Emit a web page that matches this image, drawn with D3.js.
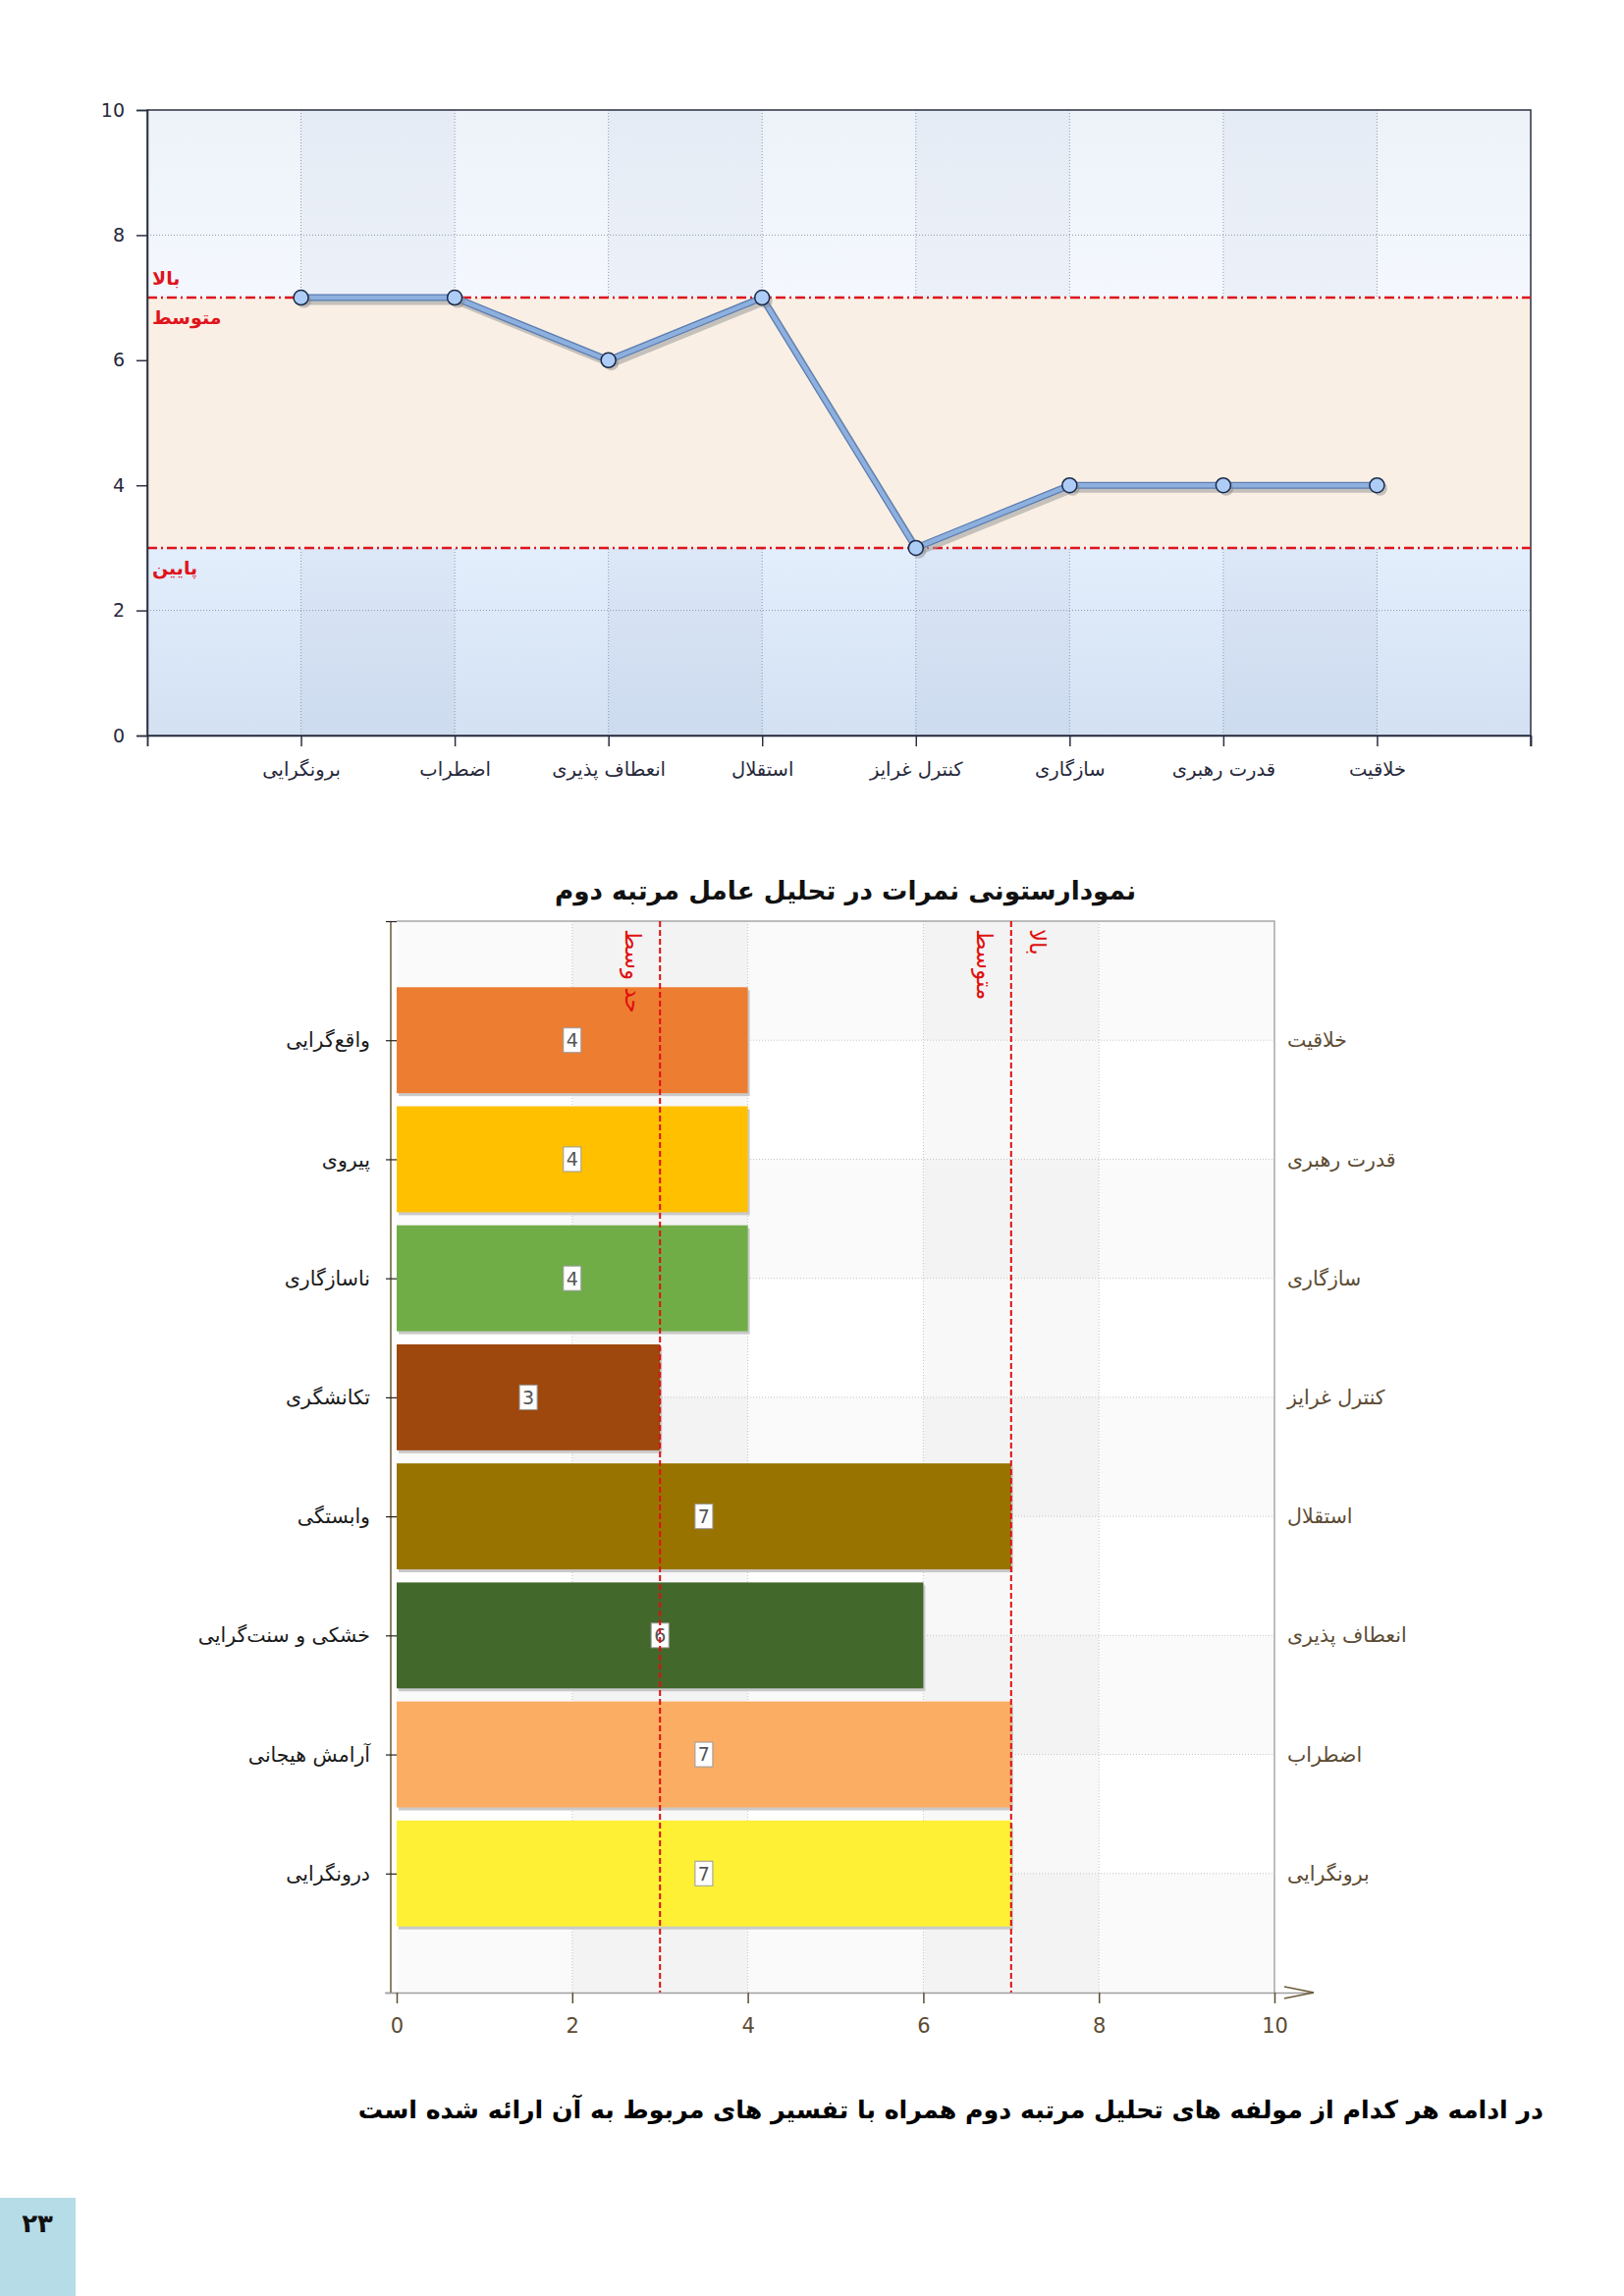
<!DOCTYPE html>
<html>
<head>
<meta charset="utf-8">
<script src="https://cdn.jsdelivr.net/npm/d3@7"></script>
<style>
  body { margin: 0; background: #fff; }
  svg text { font-family: "DejaVu Sans", sans-serif; }
</style>
</head>
<body>
<script>
// factors, in the order of the line chart (left to right)
const factors = ["برونگرایی", "اضطراب", "انعطاف پذیری", "استقلال", "کنترل غرایز", "سازگاری", "قدرت رهبری", "خلاقیت"];
const scores = [7, 7, 6, 7, 3, 4, 4, 4];
// opposite poles shown on the left of the bar chart
const poles = ["درونگرایی", "آرامش هیجانی", "خشکی و سنت\u200cگرایی", "وابستگی", "تکانشگری", "ناسازگاری", "پیروی", "واقع\u200cگرایی"];
const barColors = ["#FEF035", "#FBAD63", "#43682B", "#997300", "#9E480E", "#70AD47", "#FFC000", "#ED7D31"];
const yTicks = [0, 2, 4, 6, 8, 10];
const xTicks = [0, 2, 4, 6, 8, 10];
const lowLine = 3, highLine = 7;

const svg = d3.select("body").append("svg")
  .attr("width", 1654).attr("height", 2338);

const defs = svg.append("defs");
function vgrad(id, c1, c2) {
  const g = defs.append("linearGradient").attr("id", id)
    .attr("x1", 0).attr("y1", 0).attr("x2", 0).attr("y2", 1);
  g.append("stop").attr("offset", "0%").attr("stop-color", c1);
  g.append("stop").attr("offset", "100%").attr("stop-color", c2);
}
vgrad("gTop", "#edf2f9", "#f4f8fe");
vgrad("gLow", "#e3eefc", "#d3e1f3");

// fit a text to a target width by adjusting its font size
function fitText(sel, width) {
  const fs = +sel.attr("font-size");
  const w = sel.node().getComputedTextLength();
  if (w > 0) sel.attr("font-size", (fs * width / w).toFixed(2));
}

// ---------- line chart ----------
const x1 = d3.scaleLinear().domain([0, 9]).range([150, 1559]);
const y1 = d3.scaleLinear().domain([0, 10]).range([749, 112]);
const lc = svg.append("g");

lc.append("rect").attr("x", x1(0)).attr("y", y1(10))
  .attr("width", x1(9) - x1(0)).attr("height", y1(highLine) - y1(10)).attr("fill", "url(#gTop)");
lc.append("rect").attr("x", x1(0)).attr("y", y1(lowLine))
  .attr("width", x1(9) - x1(0)).attr("height", y1(0) - y1(lowLine)).attr("fill", "url(#gLow)");
// darker alternate columns
lc.selectAll("rect.col").data([1, 3, 5, 7]).enter().append("rect")
  .attr("class", "col")
  .attr("x", d => x1(d)).attr("y", y1(10))
  .attr("width", x1(1) - x1(0)).attr("height", y1(0) - y1(10))
  .attr("fill", "#1a3a70").attr("opacity", 0.035);

// dotted grid
lc.selectAll("line.hg").data(yTicks.slice(1, -1)).enter().append("line")
  .attr("x1", x1(0)).attr("x2", x1(9)).attr("y1", d => y1(d)).attr("y2", d => y1(d))
  .attr("stroke", "#8f9bb0").attr("stroke-width", 1).attr("stroke-dasharray", "1,2");
lc.selectAll("line.vg").data(d3.range(1, 9)).enter().append("line")
  .attr("y1", y1(0)).attr("y2", y1(10)).attr("x1", d => x1(d)).attr("x2", d => x1(d))
  .attr("stroke", "#8f9bb0").attr("stroke-width", 1).attr("stroke-dasharray", "1,2");

// middle (average) zone
lc.append("rect").attr("x", x1(0)).attr("y", y1(highLine))
  .attr("width", x1(9) - x1(0)).attr("height", y1(lowLine) - y1(highLine)).attr("fill", "#faefe4");

// frame
lc.append("rect").attr("x", x1(0)).attr("y", y1(10))
  .attr("width", x1(9) - x1(0)).attr("height", y1(0) - y1(10))
  .attr("fill", "none").attr("stroke", "#2b3040").attr("stroke-width", 1.5);

// limit lines
lc.selectAll("line.lim").data([lowLine, highLine]).enter().append("line")
  .attr("x1", x1(0)).attr("x2", x1(9)).attr("y1", d => y1(d)).attr("y2", d => y1(d))
  .attr("stroke", "#e0141c").attr("stroke-width", 2.5).attr("stroke-dasharray", "10,4,2,4");

const redLab = [
  {t: "بالا", v: highLine, dy: -20},
  {t: "متوسط", v: highLine, dy: 20},
  {t: "پایین", v: lowLine, dy: 20}
];
lc.selectAll("text.lim").data(redLab).enter().append("text")
  .attr("x", x1(0) + 5).attr("y", d => y1(d.v) + d.dy).attr("dy", "0.35em")
  .attr("text-anchor", "start").attr("fill", "#e0141c")
  .attr("font-size", 19).attr("font-weight", "bold").text(d => d.t);

// axes
const axL = lc.append("g").attr("transform", `translate(${x1(0)},0)`)
  .call(d3.axisLeft(y1).tickValues(yTicks).tickSize(11).tickPadding(12));
const axB = lc.append("g").attr("transform", `translate(0,${y1(0)})`)
  .call(d3.axisBottom(x1).tickValues(d3.range(0, 10)).tickSize(11).tickPadding(16)
    .tickFormat(i => factors[i - 1] || ""));
lc.append("line").attr("x1", x1(9)).attr("x2", x1(9)).attr("y1", y1(0)).attr("y2", y1(0) + 11)
  .attr("stroke", "#2b3040").attr("stroke-width", 1.5);
[axL, axB].forEach(a => {
  a.select(".domain").attr("stroke", "#2b3040").attr("stroke-width", 1.5);
  a.selectAll(".tick line").attr("stroke", "#2b3040").attr("stroke-width", 1.5);
  a.selectAll("text").attr("fill", "#26283a").attr("font-family", "DejaVu Sans");
});
axL.selectAll("text").attr("font-size", 19);
axB.selectAll("text").attr("font-size", 19.5);

// line with shadow
const line = d3.line().x((d, i) => x1(i + 1)).y(d => y1(d));
lc.append("path").datum(scores).attr("d", line).attr("transform", "translate(3,4)")
  .attr("fill", "none").attr("stroke", "#a0a0a0").attr("stroke-width", 7).attr("opacity", 0.6);
lc.append("path").datum(scores).attr("d", line)
  .attr("fill", "none").attr("stroke", "#5a7cb0").attr("stroke-width", 7);
lc.append("path").datum(scores).attr("d", line)
  .attr("fill", "none").attr("stroke", "#8db0de").attr("stroke-width", 4.5);
lc.selectAll("circle.sh").data(scores).enter().append("circle")
  .attr("cx", (d, i) => x1(i + 1) + 3).attr("cy", d => y1(d) + 3).attr("r", 7.5)
  .attr("fill", "#888").attr("opacity", 0.45);
lc.selectAll("circle.pt").data(scores).enter().append("circle")
  .attr("cx", (d, i) => x1(i + 1)).attr("cy", d => y1(d)).attr("r", 7.5)
  .attr("fill", "#aecdf6").attr("stroke", "#1b2a4a").attr("stroke-width", 1.5);

// ---------- bar chart ----------
const barFactors = factors.slice().reverse();
const barScores = scores.slice().reverse();
const barPoles = poles.slice().reverse();
const barFill = barColors.slice().reverse();

const x2 = d3.scaleLinear().domain([0, 10]).range([404, 1298]);
const y2 = d3.scaleLinear().domain([0, 9]).range([938, 2029]);
const bc = svg.append("g");

const title = bc.append("text").attr("x", 861).attr("y", 907).attr("dy", "0.35em")
  .attr("text-anchor", "middle").attr("font-size", 29).attr("font-weight", "bold")
  .attr("fill", "#111")
  .text("نمودارستونی  نمرات در تحلیل عامل مرتبه دوم");
fitText(title, 592);

// background cells
const cells = [];
d3.range(9).forEach(r => d3.range(5).forEach(c => cells.push({r, c})));
bc.selectAll("rect.cell").data(cells).enter().append("rect")
  .attr("x", d => x2(d.c * 2)).attr("y", d => y2(d.r))
  .attr("width", x2(2) - x2(0)).attr("height", y2(1) - y2(0))
  .attr("fill", d => d.r % 2 === 0 ? (d.c % 2 ? "#f3f3f3" : "#fafafa") : (d.c % 2 ? "#f8f8f8" : "#ffffff"));

// dotted grid
bc.selectAll("line.vg").data([2, 4, 6, 8]).enter().append("line")
  .attr("x1", d => x2(d)).attr("x2", d => x2(d)).attr("y1", y2(0)).attr("y2", y2(9))
  .attr("stroke", "#c4c4c4").attr("stroke-dasharray", "1,2");
bc.selectAll("line.hg").data(d3.range(1, 9)).enter().append("line")
  .attr("x1", x2(0)).attr("x2", x2(10)).attr("y1", d => y2(d)).attr("y2", d => y2(d))
  .attr("stroke", "#c4c4c4").attr("stroke-dasharray", "1,2");

// plot border (top, right)
bc.append("path")
  .attr("d", `M${x2(0)},${y2(0)}H${x2(10)}V${y2(9)}`)
  .attr("fill", "none").attr("stroke", "#a8a8a8").attr("stroke-width", 1.5);

// bars
const bh = (y2(1) - y2(0)) * 0.89;
bc.selectAll("rect.bsh").data(barScores).enter().append("rect")
  .attr("x", x2(0) + 2).attr("y", (d, i) => y2(i + 1) - bh / 2 + 3)
  .attr("width", d => x2(d) - x2(0)).attr("height", bh)
  .attr("fill", "#c9c9c9");
bc.selectAll("rect.bar").data(barScores).enter().append("rect")
  .attr("x", x2(0)).attr("y", (d, i) => y2(i + 1) - bh / 2)
  .attr("width", d => x2(d) - x2(0)).attr("height", bh)
  .attr("fill", (d, i) => barFill[i]);

// value labels
const vl = bc.selectAll("g.vl").data(barScores).enter().append("g")
  .attr("transform", (d, i) => `translate(${x2(d / 2)},${y2(i + 1)})`);
vl.append("rect").attr("x", -9).attr("y", -12.5).attr("width", 18).attr("height", 25)
  .attr("fill", "#fff").attr("stroke", "#9a9a9a").attr("stroke-width", 1);
vl.append("text").attr("text-anchor", "middle").attr("dy", "0.36em")
  .attr("font-size", 19).attr("fill", "#555").text(d => d);

// reference lines
bc.selectAll("line.lim").data([lowLine, highLine]).enter().append("line")
  .attr("x1", d => x2(d)).attr("x2", d => x2(d)).attr("y1", y2(0)).attr("y2", y2(9))
  .attr("stroke", "#e01010").attr("stroke-width", 2).attr("stroke-dasharray", "6,3");
const vLab = [
  {t: "حد وسط", v: lowLine, dx: -27},
  {t: "متوسط", v: highLine, dx: -27},
  {t: "بالا", v: highLine, dx: 27}
];
bc.selectAll("text.lim").data(vLab).enter().append("text")
  .attr("transform", d => `translate(${x2(d.v) + d.dx},${y2(0) + 8}) rotate(90)`)
  .attr("text-anchor", "start").attr("dy", "0.35em")
  .attr("font-size", 23).attr("fill", "#e01010").text(d => d.t);

// axes
bc.append("line").attr("x1", 398).attr("x2", 398).attr("y1", y2(0)).attr("y2", y2(9))
  .attr("stroke", "#6b5a35").attr("stroke-width", 1.5);
const bL = bc.append("g").attr("transform", `translate(${x2(0)},0)`)
  .call(d3.axisLeft(y2).tickValues(d3.range(0, 10)).tickSize(11).tickPadding(16)
    .tickFormat(i => barPoles[i - 1] || ""));
bL.select(".domain").remove();
bL.selectAll(".tick line").attr("stroke", "#222").attr("stroke-width", 1.2);
bL.selectAll("text").attr("font-size", 20.5).attr("fill", "#1a1a1a").attr("font-family", "DejaVu Sans");

const bR = bc.append("g").attr("transform", `translate(${x2(10)},0)`)
  .call(d3.axisRight(y2).tickValues(d3.range(1, 9)).tickSize(0).tickPadding(13)
    .tickFormat(i => barFactors[i - 1]));
bR.select(".domain").remove();
bR.selectAll("text").attr("font-size", 20.5).attr("fill", "#5c4b33").attr("font-family", "DejaVu Sans");

const bB = bc.append("g").attr("transform", `translate(0,${y2(9)})`)
  .call(d3.axisBottom(x2).tickValues(xTicks).tickSize(11).tickPadding(15));
bB.select(".domain").attr("stroke", "#a0a0a0").attr("stroke-width", 1.5)
  .attr("d", `M${x2(0) - 12},0.5H${x2(10) + 40}`);
bB.selectAll(".tick line").attr("stroke", "#5c4b33").attr("stroke-width", 1.5);
bB.selectAll("text").attr("font-size", 21).attr("fill", "#5c4b33").attr("font-family", "DejaVu Sans");
bc.append("path")
  .attr("d", `M${x2(10) + 10},${y2(9) - 6}L${x2(10) + 40},${y2(9)}L${x2(10) + 10},${y2(9) + 6}`)
  .attr("fill", "none").attr("stroke", "#6b5a35").attr("stroke-width", 1.5);

// ---------- page text ----------
const note = svg.append("text").attr("x", 1572).attr("y", 2148).attr("dy", "0.35em")
  .attr("text-anchor", "end").attr("font-size", 28).attr("font-weight", "bold")
  .attr("fill", "#000")
  .text("در ادامه هر کدام از مولفه های تحلیل مرتبه دوم همراه با تفسیر های مربوط به آن ارائه شده است");
fitText(note, 1208);

svg.append("rect").attr("x", 0).attr("y", 2238).attr("width", 77).attr("height", 100)
  .attr("fill", "#b6dce7");
svg.append("text").attr("x", 38).attr("y", 2264).attr("dy", "0.35em")
  .attr("text-anchor", "middle").attr("font-size", 26).attr("font-weight", "bold")
  .attr("fill", "#111").text("۲۳");
</script>
</body>
</html>
